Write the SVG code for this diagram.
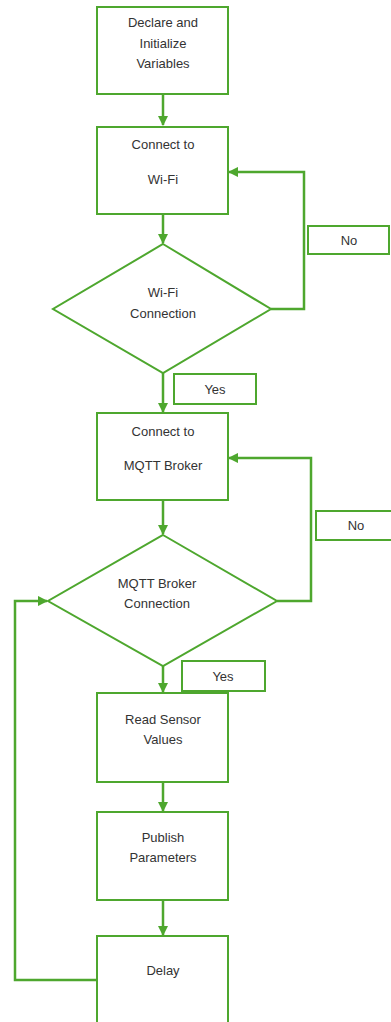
<svg xmlns="http://www.w3.org/2000/svg" width="391" height="1022" viewBox="0 0 391 1022">
<style>
.n{fill:#fff;stroke:#4ea72e;stroke-width:2}
.c{fill:none;stroke:#4ea72e;stroke-width:2.5}
text{font-family:"Liberation Sans",Arial,sans-serif;font-size:13px;fill:#333;text-anchor:middle}
</style>
<defs>
<marker id="ah" viewBox="0 0 10 10" refX="9" refY="5" markerWidth="4.2" markerHeight="4.2" orient="auto" markerUnits="strokeWidth">
<path d="M0,0 L10,5 L0,10 z" fill="#4ea72e"/>
</marker>
</defs>
<rect width="391" height="1022" fill="#fff"/>
<g id="connectors">
<path class="c" d="M163,94 V125" marker-end="url(#ah)"/>
<path class="c" d="M163,214 V243" marker-end="url(#ah)"/>
<path class="c" d="M271,309 H304 V172 H229" marker-end="url(#ah)"/>
<path class="c" d="M163,373 V412" marker-end="url(#ah)"/>
<path class="c" d="M163,500 V534" marker-end="url(#ah)"/>
<path class="c" d="M277,601 H311 V458 H229" marker-end="url(#ah)"/>
<path class="c" d="M163,666 V692" marker-end="url(#ah)"/>
<path class="c" d="M163,782 V811" marker-end="url(#ah)"/>
<path class="c" d="M163,900 V935" marker-end="url(#ah)"/>
<path class="c" d="M97,980 H15 V601 H47" marker-end="url(#ah)"/>
</g>
<g id="n1"><rect class="n" x="97" y="7" width="131" height="87"/><text x="163" y="27">Declare and</text><text x="163" y="48">Initialize</text><text x="163" y="68">Variables</text></g>
<g id="n2"><rect class="n" x="97" y="127" width="131" height="87"/><text x="163" y="149">Connect to</text><text x="163" y="184">Wi-Fi</text></g>
<g id="n3"><polygon class="n" points="163,244 271,309 163,373 53,309"/><text x="163" y="297">Wi-Fi</text><text x="163" y="318">Connection</text></g>
<g id="no1"><rect class="n" x="308" y="226" width="81" height="28"/><text x="349" y="245">No</text></g>
<g id="yes1"><rect class="n" x="174" y="374" width="82" height="30"/><text x="215" y="394">Yes</text></g>
<g id="n4"><rect class="n" x="97" y="413" width="131" height="87"/><text x="163" y="436">Connect to</text><text x="163" y="470">MQTT Broker</text></g>
<g id="n5"><polygon class="n" points="163,535 277,601 163,666 48,601"/><text x="157" y="588">MQTT Broker</text><text x="157" y="608">Connection</text></g>
<g id="no2"><rect class="n" x="316" y="511" width="76" height="29"/><text x="356" y="530">No</text></g>
<g id="yes2"><rect class="n" x="182" y="661" width="83" height="30"/><text x="223" y="681">Yes</text></g>
<g id="n6"><rect class="n" x="97" y="693" width="131" height="89"/><text x="163" y="724">Read Sensor</text><text x="163" y="744">Values</text></g>
<g id="n7"><rect class="n" x="97" y="812" width="131" height="88"/><text x="163" y="842">Publish</text><text x="163" y="862">Parameters</text></g>
<g id="n8"><rect class="n" x="97" y="936" width="131" height="100"/><text x="163" y="975">Delay</text></g>
</svg>
